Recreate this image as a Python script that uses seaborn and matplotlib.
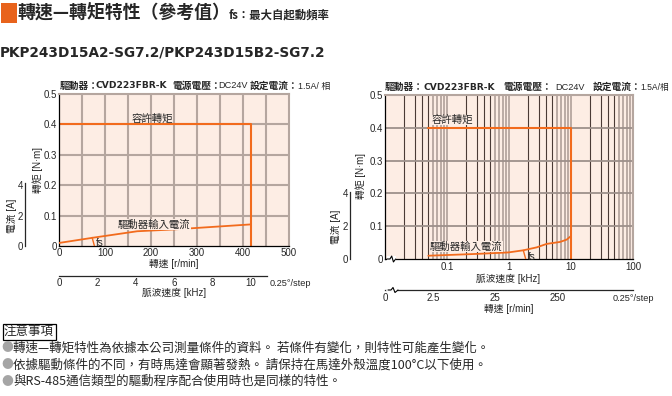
import numpy as np
import pandas as pd
import matplotlib
matplotlib.use("Agg")
import matplotlib.pyplot as plt
import matplotlib.lines as mlines
import seaborn as sns
from matplotlib.patches import Rectangle

# ---------------- data ----------------
RPM_PER_KHZ = 41.667  # 0.25 deg/step

left_torque_speed = [0, 416.7, 416.7]
left_torque = [0.4, 0.4, 0.0]
left_current_speed = [0, 75, 170, 250, 416.7]
left_current = [0.20, 0.55, 0.97, 1.09, 1.42]
left_fs_speed = [72, 77]
left_fs_current = [0.56, 0.0]
left_speed_ticks = [0, 100, 200, 300, 400, 500]
left_pulse_ticks = [0, 2, 4, 6, 8, 10]

right_torque_pulse = [0.05, 10, 10]
right_torque = [0.4, 0.4, 0.0]
right_current_pulse = [0.05, 0.30, 0.975, 1.7, 2.8, 4.05, 6.65, 8.5, 10]
right_current = [0.20, 0.31, 0.40, 0.53, 0.71, 0.92, 1.04, 1.18, 1.40]
right_fs_pulse = [1.70, 1.86]
right_fs_current = [0.53, 0.0]
right_pulse_ticks = [0.1, 1, 10, 100]
right_pulse_labels = ["0.1", "1", "10", "100"]
right_speed_ticks = [2.5, 25, 250]
right_speed_labels = ["0", "2.5", "25", "250"]

torque_ticks = [0, 0.1, 0.2, 0.3, 0.4, 0.5]
torque_labels = ["0", "0.1", "0.2", "0.3", "0.4", "0.5"]
current_ticks = [0, 2, 4]

notes = [
    "轉速—轉矩特性為依據本公司測量條件的資料。 若條件有變化，則特性可能產生變化。",
    "依據驅動條件的不同，有時馬達會顯著發熱。 請保持在馬達外殼溫度100°C以下使用。",
    "與RS-485通信類型的驅動程序配合使用時也是同樣的特性。",
]

# ---------------- style ----------------
sns.set_style("white")
CJK = "Noto Sans CJK TC"
plt.rcParams["font.family"] = [CJK, "DejaVu Sans"]
NARROW = ["Liberation Sans Narrow", "Liberation Sans", CJK, "DejaVu Sans"]
ORANGE = "#f26b1d"
BG = "#fdede4"
GRID = "#b5a69f"
DARK = "#4a3a35"
TICK_FS = 7

W, H = 672, 396
fig = plt.figure(figsize=(W / 100, H / 100), dpi=100)
fig.patch.set_facecolor("white")


def fx(x):
    return x / W


def fy(y):
    return 1 - y / H


def ftext(x, y, s, **kw):
    kw.setdefault("va", "center")
    kw.setdefault("ha", "left")
    kw.setdefault("fontsize", 7)
    fig.text(fx(x), fy(y), s, **kw)


def axes_px(x0, y0, x1, y1):
    return fig.add_axes([fx(x0), fy(y1), (x1 - x0) / W, max((y1 - y0) / H, 1e-4)])


def narrow_ticks(ax):
    for lab in ax.get_xticklabels() + ax.get_yticklabels():
        lab.set_fontfamily(NARROW)


# ---------------- header ----------------
fig.patches.append(Rectangle((fx(1), fy(22.5)), 16 / W, 19.5 / H, transform=fig.transFigure,
                             facecolor="#e8631c", edgecolor="none"))
ftext(18, 12.5, "轉速—轉矩特性（參考值）", fontsize=12.9, fontweight="bold")
ftext(229, 15, "fs：最大自起動頻率", fontsize=8.2, fontweight="bold")
ftext(0, 53, "PKP243D15A2-SG7.2/PKP243D15B2-SG7.2", fontsize=9.8, fontweight="bold",
      family="DejaVu Sans")

# ---------------- left chart ----------------
axL = axes_px(59, 94, 289, 246)
axL.set_facecolor(BG)
axL.set_xlim(0, 500)
axL.set_ylim(0, 0.5)
for v in np.arange(50, 500, 50):
    axL.axvline(v, color=GRID, lw=1.5, zorder=0.5)
for h in torque_ticks[1:-1]:
    axL.axhline(h, color=GRID, lw=1.5, zorder=0.5)
sns.lineplot(x=left_torque_speed, y=left_torque, ax=axL, sort=False, estimator=None,
             color=ORANGE, lw=1.5)
axL.set_xticks(left_speed_ticks)
axL.set_yticks(torque_ticks)
axL.set_yticklabels(torque_labels)
axL.tick_params(length=0, labelsize=TICK_FS, pad=1.5)
narrow_ticks(axL)
axL.set_xlabel("")
axL.set_ylabel("")
for s in ["top", "right"]:
    axL.spines[s].set_color(GRID)
    axL.spines[s].set_linewidth(1.5)
for s in ["left", "bottom"]:
    axL.spines[s].set_color("black")
    axL.spines[s].set_linewidth(0.9)

axLc = axL.twinx()
axLc.set_ylim(0, 10)
axLc.axis("off")
sns.lineplot(x=left_current_speed, y=left_current, ax=axLc, sort=False, estimator=None,
             color=ORANGE, lw=1.3)
sns.lineplot(x=left_fs_speed, y=left_fs_current, ax=axLc, sort=False, estimator=None,
             color=ORANGE, lw=1.0)

ftext(132, 118.5, "容許轉矩", fontsize=7.5)
ftext(118, 224.3, "驅動器輸入電流", fontsize=7.5,
      bbox=dict(facecolor=BG, edgecolor="none", pad=0.3))
ftext(95.5, 243, "fs", fontsize=7, family=NARROW)

# current axis (left)
axLs = axes_px(25, 94, 25, 246)
axLs.set_ylim(0, 10)
for s in ["top", "right", "bottom"]:
    axLs.spines[s].set_visible(False)
axLs.spines["left"].set_bounds(0, 4.15)
axLs.spines["left"].set_linewidth(0.9)
axLs.set_xticks([])
axLs.set_yticks(current_ticks)
axLs.tick_params(axis="y", direction="in", length=3, width=0.8, labelsize=TICK_FS, pad=1.5)
narrow_ticks(axLs)
axLs.patch.set_alpha(0)

# pulse axis (left)
axLb = axes_px(59, 275.7, 289, 275.7)
axLb.set_xlim(0, 500 / RPM_PER_KHZ)
for s in ["top", "right", "left"]:
    axLb.spines[s].set_visible(False)
axLb.spines["bottom"].set_bounds(0, 10.85)
axLb.spines["bottom"].set_linewidth(0.9)
axLb.set_yticks([])
axLb.set_xticks(left_pulse_ticks)
axLb.tick_params(axis="x", direction="in", length=3, width=0.8, labelsize=TICK_FS, pad=2)
narrow_ticks(axLb)
axLb.patch.set_alpha(0)

ftext(174, 264.3, "轉速 [r/min]", ha="center", family=NARROW[1:])
ftext(174, 293.3, "脈波速度 [kHz]", ha="center", family=NARROW[1:])
ftext(270, 283.3, "0.25°/step", fontsize=6.6, family=NARROW)
ftext(37.5, 170, "轉矩 [N·m]", rotation=90, ha="center", family=NARROW[1:])
ftext(12, 216, "電流 [A]", rotation=90, ha="center", family=NARROW[1:])

# left title
ftext(60, 86, "驅動器：", fontweight="bold")
ftext(96, 86, "CVD223FBR-K", fontweight="bold", family="DejaVu Sans", fontsize=6.6)
ftext(172, 86, "電源電壓：", fontweight="bold")
ftext(218, 86, "DC24V", family=NARROW, fontsize=6.6)
ftext(250, 86, "設定電流：", fontweight="bold")
ftext(298, 86, "1.5A/ 相", family=NARROW, fontsize=6.4)

# ---------------- right chart ----------------
axR = axes_px(385, 95, 633, 259)
axR.set_facecolor(BG)
axR.set_xscale("log")
axR.set_xlim(0.01, 100)
axR.set_ylim(0, 0.5)
for dec in [0.01, 0.1, 1, 10]:
    for m in range(2, 11):
        v = dec * m
        if m <= 5:
            axR.axvline(v, color=DARK, lw=0.8, zorder=0.5)
        else:
            axR.axvline(v, color=GRID, lw=1.3, zorder=0.5)
for h in torque_ticks[1:-1]:
    axR.axhline(h, color="#9d908b", lw=1.3, zorder=0.5)
sns.lineplot(x=right_torque_pulse, y=right_torque, ax=axR, sort=False, estimator=None,
             color=ORANGE, lw=1.5)
axR.set_xticks(right_pulse_ticks)
axR.set_xticklabels(right_pulse_labels)
axR.xaxis.set_minor_locator(matplotlib.ticker.NullLocator())
axR.set_yticks(torque_ticks)
axR.set_yticklabels(torque_labels)
axR.tick_params(length=0, labelsize=TICK_FS, pad=1.5)
axR.tick_params(axis="x", pad=2.5)
narrow_ticks(axR)
axR.set_xlabel("")
axR.set_ylabel("")
for s in ["top", "right"]:
    axR.spines[s].set_color(GRID)
    axR.spines[s].set_linewidth(1.5)
for s in ["left", "bottom"]:
    axR.spines[s].set_color("black")
    axR.spines[s].set_linewidth(0.9)
# axis break on main axis
axR.add_patch(Rectangle((0.008, -0.02), 0.035, 0.04, transform=axR.transAxes,
                        facecolor="white", edgecolor="none", clip_on=False, zorder=5))
axR.plot([0.008, 0.02, 0.027, 0.034, 0.043], [0, 0, 0.018, -0.018, 0],
         transform=axR.transAxes, color="black", lw=0.8, clip_on=False, zorder=6)

axRc = axR.twinx()
axRc.set_ylim(0, 10)
axRc.axis("off")
sns.lineplot(x=right_current_pulse, y=right_current, ax=axRc, sort=False, estimator=None,
             color=ORANGE, lw=1.3)
sns.lineplot(x=right_fs_pulse, y=right_fs_current, ax=axRc, sort=False, estimator=None,
             color=ORANGE, lw=1.0)

ftext(432, 120, "容許轉矩", fontsize=7.5,
      bbox=dict(facecolor=BG, edgecolor="none", pad=0.3))
ftext(430, 246.7, "驅動器輸入電流", fontsize=7.5,
      bbox=dict(facecolor=BG, edgecolor="none", pad=0.3))
ftext(527.5, 256.7, "fs", fontsize=7, family=NARROW)

# current axis (right)
axRs = axes_px(350, 95, 350, 259)
axRs.set_ylim(0, 10)
for s in ["top", "right", "bottom"]:
    axRs.spines[s].set_visible(False)
axRs.spines["left"].set_bounds(0, 4.1)
axRs.spines["left"].set_linewidth(0.9)
axRs.set_xticks([])
axRs.set_yticks(current_ticks)
axRs.tick_params(axis="y", direction="in", length=3, width=0.8, labelsize=TICK_FS, pad=1.5)
narrow_ticks(axRs)
axRs.patch.set_alpha(0)

# speed axis (right, log)
axRb = axes_px(385, 290, 633, 290)
axRb.set_xscale("log")
axRb.set_xlim(0.01 * RPM_PER_KHZ, 100 * RPM_PER_KHZ)
for s in ["top", "right", "left"]:
    axRb.spines[s].set_visible(False)
axRb.spines["bottom"].set_linewidth(0.9)
axRb.set_yticks([])
axRb.set_xticks([0.01 * RPM_PER_KHZ] + right_speed_ticks)
axRb.set_xticklabels(right_speed_labels)
axRb.xaxis.set_minor_locator(matplotlib.ticker.NullLocator())
axRb.tick_params(axis="x", direction="in", length=3, width=0.8, labelsize=TICK_FS, pad=2.5)
narrow_ticks(axRb)
axRb.patch.set_alpha(0)
axRb.plot([0.008, 0.02, 0.027, 0.034, 0.043], [0, 0, 0, 0, 0], transform=axRb.transAxes,
          color="white", lw=2.0, clip_on=False, zorder=5)

ftext(508, 279.3, "脈波速度 [kHz]", ha="center", family=NARROW[1:])
ftext(509, 309, "轉速 [r/min]", ha="center", family=NARROW[1:])
ftext(613, 298.3, "0.25°/step", fontsize=6.6, family=NARROW)
ftext(361, 176, "轉矩 [N·m]", rotation=90, ha="center", family=NARROW[1:])
ftext(336, 227, "電流 [A]", rotation=90, ha="center", family=NARROW[1:])

# squiggle on speed axis
fig.lines.append(mlines.Line2D(
    [fx(388), fx(391), fx(393), fx(395), fx(398)],
    [fy(290), fy(290), fy(287.5), fy(292.5), fy(290)],
    transform=fig.transFigure, color="black", lw=0.8))

# right title
ftext(385, 87, "驅動器：", fontweight="bold")
ftext(424, 87, "CVD223FBR-K", fontweight="bold", family="DejaVu Sans", fontsize=6.6)
ftext(503, 87, "電源電壓：", fontweight="bold")
ftext(555, 87, "DC24V", family=NARROW, fontsize=6.6)
ftext(593, 87, "設定電流：", fontweight="bold")
ftext(640, 87, "1.5A/相", family=NARROW, fontsize=6.2)

# ---------------- notes ----------------
ftext(4, 331.5, "注意事項", fontsize=9,
      bbox=dict(boxstyle="square,pad=0.12", facecolor="white", edgecolor="black", lw=0.9))
for i, line in enumerate(notes):
    y = 348 + i * 16.7
    ftext(1, y, "●", fontsize=8.5, color="#a5a5a5")
    ftext(13, y, line, fontsize=9)

fig.savefig("out.png", dpi=100, facecolor="white")
